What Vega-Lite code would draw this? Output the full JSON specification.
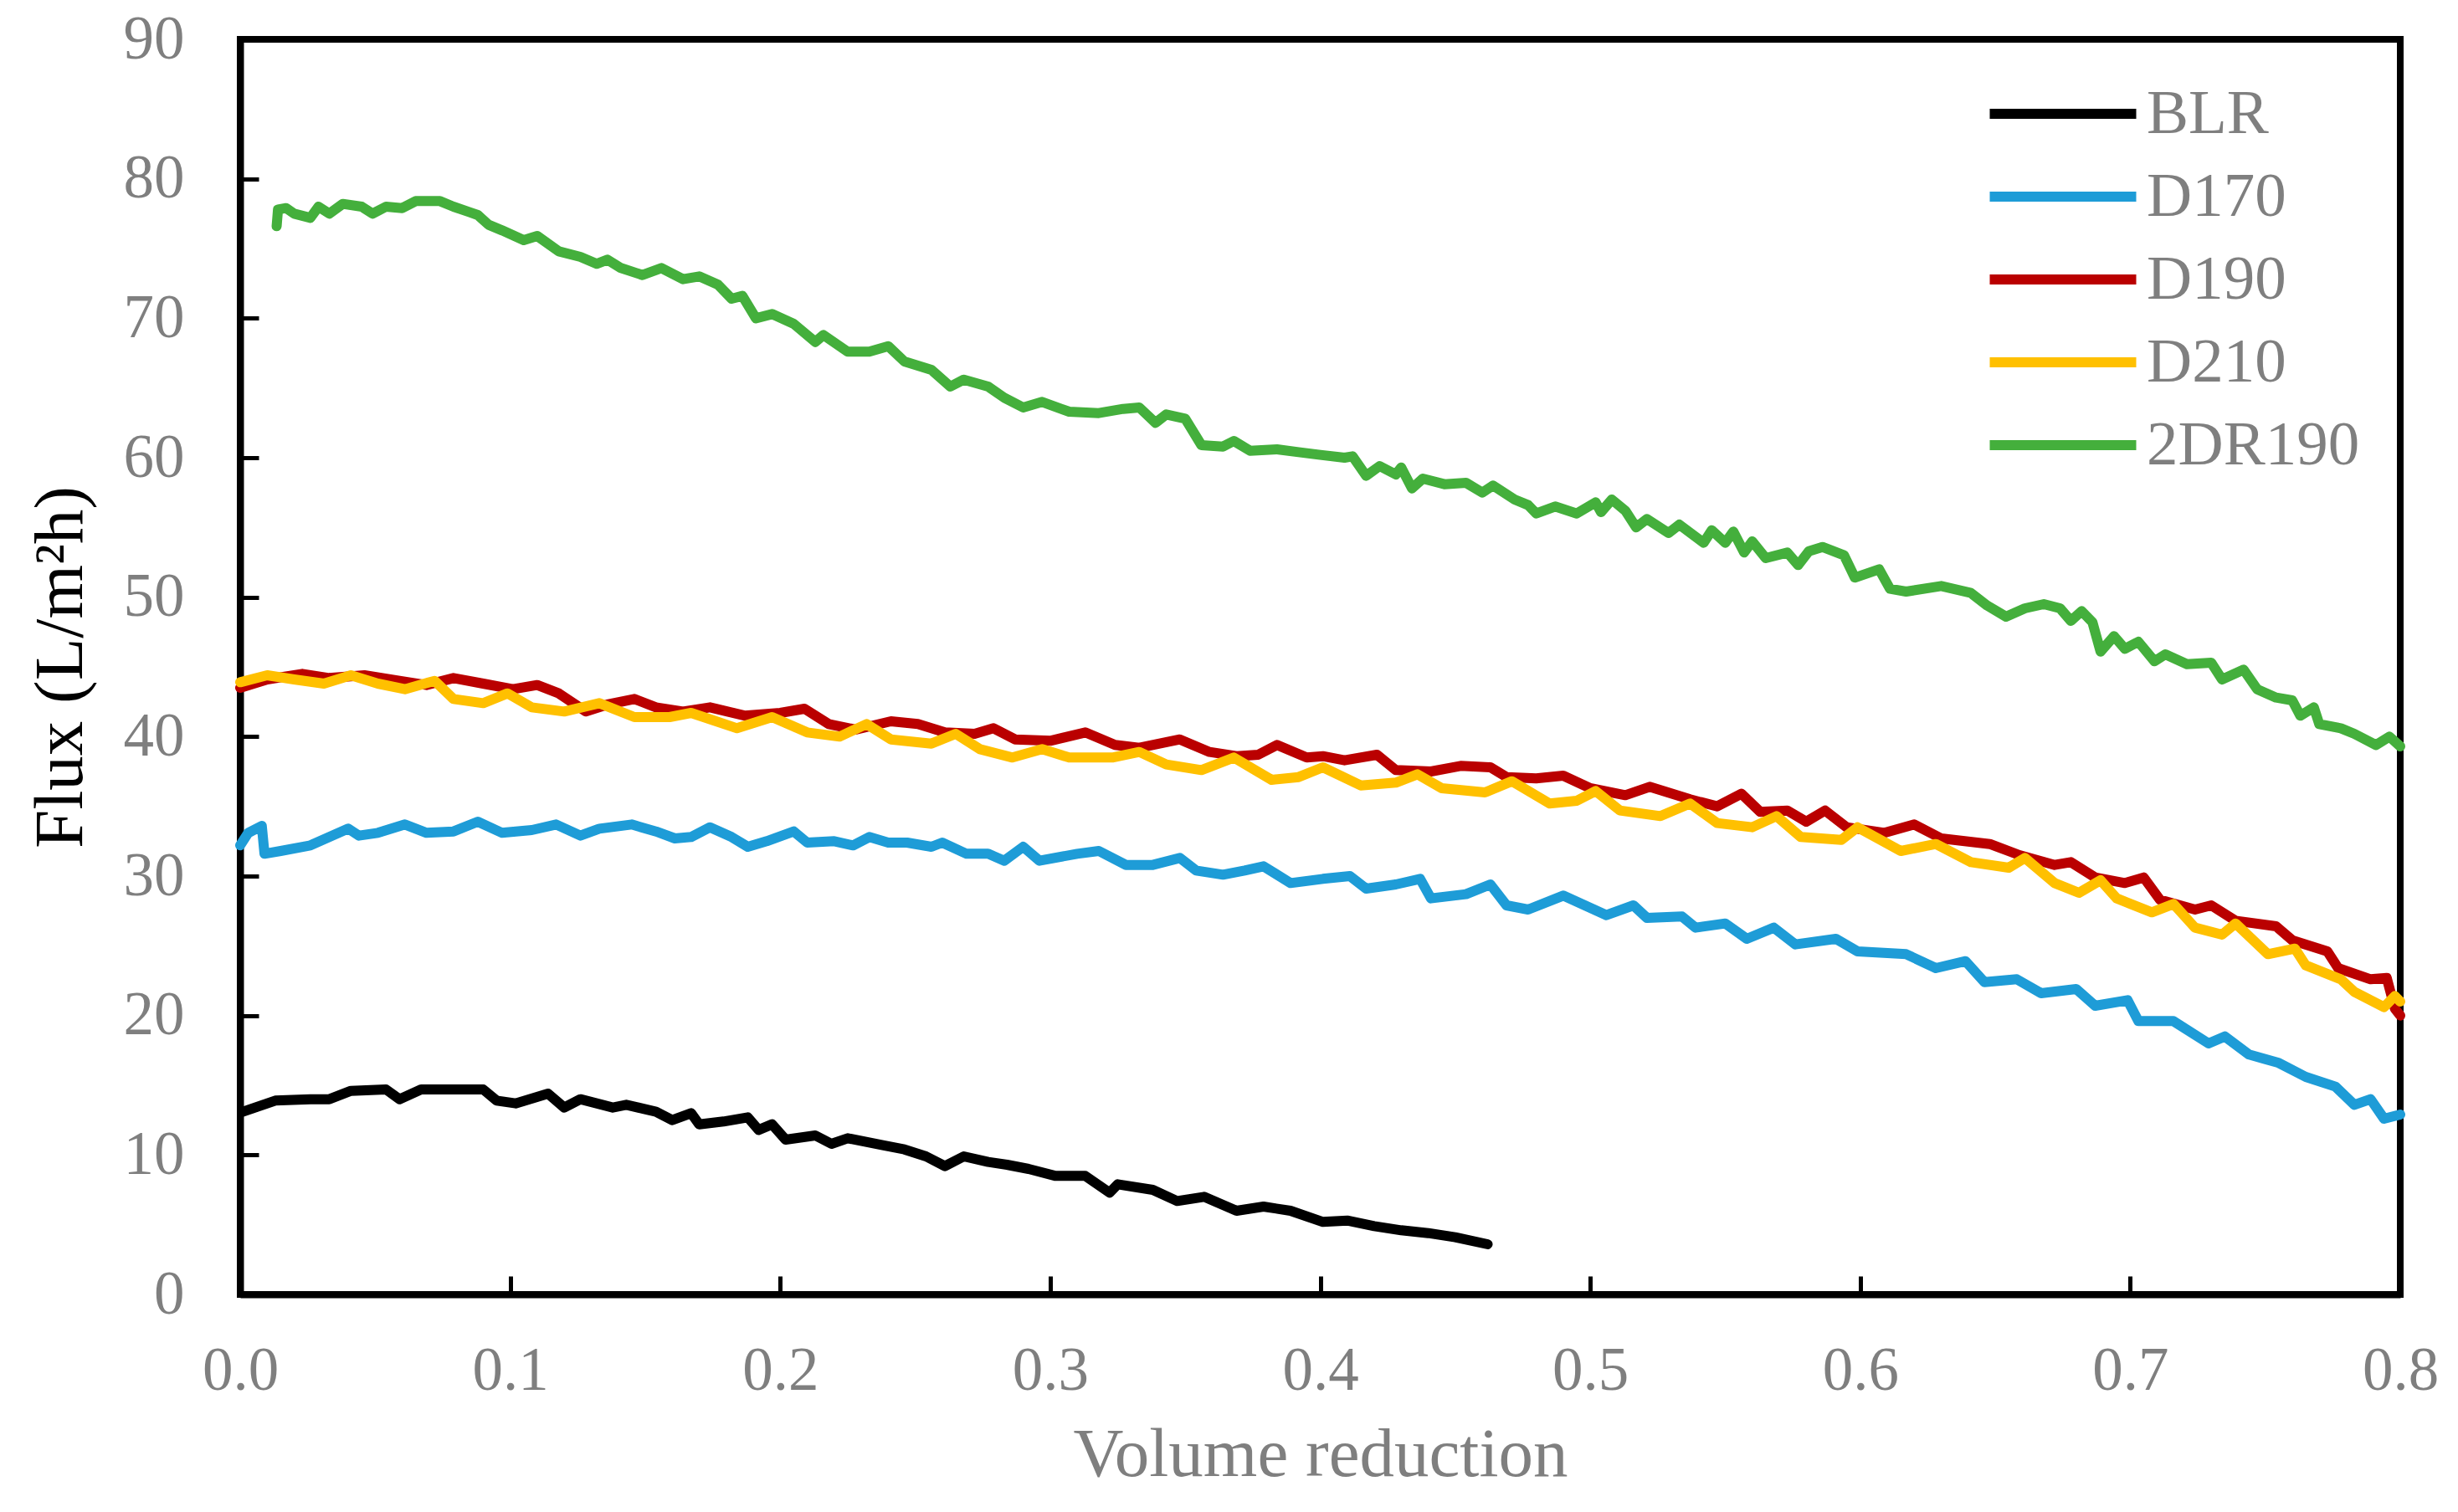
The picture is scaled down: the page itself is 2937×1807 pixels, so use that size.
{
  "$schema": "https://vega.github.io/schema/vega-lite/v6.json",
  "autosize": "none",
  "width": 2581,
  "height": 1500,
  "padding": {"left": 287, "top": 47, "right": 69, "bottom": 260},
  "background": "white",
  "datasets": {
    "flux": [
      {"s": "BLR", "v": 0.001, "f": 13.1}, {"s": "BLR", "v": 0.013, "f": 13.9}, {"s": "BLR", "v": 0.026, "f": 14.0}, {"s": "BLR", "v": 0.033, "f": 14.0},
      {"s": "BLR", "v": 0.041, "f": 14.6}, {"s": "BLR", "v": 0.054, "f": 14.7}, {"s": "BLR", "v": 0.059, "f": 14.0}, {"s": "BLR", "v": 0.067, "f": 14.7},
      {"s": "BLR", "v": 0.077, "f": 14.7}, {"s": "BLR", "v": 0.090, "f": 14.7}, {"s": "BLR", "v": 0.095, "f": 13.9}, {"s": "BLR", "v": 0.102, "f": 13.7},
      {"s": "BLR", "v": 0.114, "f": 14.4}, {"s": "BLR", "v": 0.120, "f": 13.4}, {"s": "BLR", "v": 0.126, "f": 14.0}, {"s": "BLR", "v": 0.138, "f": 13.4},
      {"s": "BLR", "v": 0.143, "f": 13.6}, {"s": "BLR", "v": 0.154, "f": 13.1}, {"s": "BLR", "v": 0.160, "f": 12.5}, {"s": "BLR", "v": 0.167, "f": 13.0},
      {"s": "BLR", "v": 0.170, "f": 12.2}, {"s": "BLR", "v": 0.179, "f": 12.4}, {"s": "BLR", "v": 0.188, "f": 12.7}, {"s": "BLR", "v": 0.192, "f": 11.8},
      {"s": "BLR", "v": 0.197, "f": 12.2}, {"s": "BLR", "v": 0.202, "f": 11.1}, {"s": "BLR", "v": 0.213, "f": 11.4}, {"s": "BLR", "v": 0.219, "f": 10.8},
      {"s": "BLR", "v": 0.225, "f": 11.2}, {"s": "BLR", "v": 0.238, "f": 10.7}, {"s": "BLR", "v": 0.246, "f": 10.4}, {"s": "BLR", "v": 0.254, "f": 9.9},
      {"s": "BLR", "v": 0.261, "f": 9.2}, {"s": "BLR", "v": 0.268, "f": 9.9}, {"s": "BLR", "v": 0.277, "f": 9.5}, {"s": "BLR", "v": 0.284, "f": 9.3},
      {"s": "BLR", "v": 0.292, "f": 9.0}, {"s": "BLR", "v": 0.302, "f": 8.5}, {"s": "BLR", "v": 0.313, "f": 8.5}, {"s": "BLR", "v": 0.322, "f": 7.3},
      {"s": "BLR", "v": 0.325, "f": 7.9}, {"s": "BLR", "v": 0.338, "f": 7.5}, {"s": "BLR", "v": 0.347, "f": 6.7}, {"s": "BLR", "v": 0.357, "f": 7.0},
      {"s": "BLR", "v": 0.369, "f": 6.0}, {"s": "BLR", "v": 0.379, "f": 6.3}, {"s": "BLR", "v": 0.389, "f": 6.0}, {"s": "BLR", "v": 0.401, "f": 5.2},
      {"s": "BLR", "v": 0.410, "f": 5.3}, {"s": "BLR", "v": 0.420, "f": 4.9}, {"s": "BLR", "v": 0.430, "f": 4.6}, {"s": "BLR", "v": 0.440, "f": 4.4},
      {"s": "BLR", "v": 0.450, "f": 4.1}, {"s": "BLR", "v": 0.462, "f": 3.6},

      {"s": "D170", "v": 0.000, "f": 32.2}, {"s": "D170", "v": 0.003, "f": 33.1}, {"s": "D170", "v": 0.008, "f": 33.6}, {"s": "D170", "v": 0.009, "f": 31.6},
      {"s": "D170", "v": 0.015, "f": 31.8}, {"s": "D170", "v": 0.026, "f": 32.2}, {"s": "D170", "v": 0.033, "f": 32.8}, {"s": "D170", "v": 0.040, "f": 33.4},
      {"s": "D170", "v": 0.044, "f": 32.9}, {"s": "D170", "v": 0.051, "f": 33.1}, {"s": "D170", "v": 0.061, "f": 33.7}, {"s": "D170", "v": 0.069, "f": 33.1},
      {"s": "D170", "v": 0.079, "f": 33.2}, {"s": "D170", "v": 0.088, "f": 33.9}, {"s": "D170", "v": 0.097, "f": 33.1}, {"s": "D170", "v": 0.108, "f": 33.3},
      {"s": "D170", "v": 0.117, "f": 33.7}, {"s": "D170", "v": 0.126, "f": 32.9}, {"s": "D170", "v": 0.133, "f": 33.4}, {"s": "D170", "v": 0.145, "f": 33.7},
      {"s": "D170", "v": 0.154, "f": 33.2}, {"s": "D170", "v": 0.161, "f": 32.7}, {"s": "D170", "v": 0.167, "f": 32.8}, {"s": "D170", "v": 0.174, "f": 33.5},
      {"s": "D170", "v": 0.182, "f": 32.8}, {"s": "D170", "v": 0.188, "f": 32.1}, {"s": "D170", "v": 0.195, "f": 32.5}, {"s": "D170", "v": 0.205, "f": 33.2},
      {"s": "D170", "v": 0.210, "f": 32.4}, {"s": "D170", "v": 0.220, "f": 32.5}, {"s": "D170", "v": 0.227, "f": 32.2}, {"s": "D170", "v": 0.233, "f": 32.8},
      {"s": "D170", "v": 0.240, "f": 32.4}, {"s": "D170", "v": 0.247, "f": 32.4}, {"s": "D170", "v": 0.256, "f": 32.1}, {"s": "D170", "v": 0.260, "f": 32.4},
      {"s": "D170", "v": 0.269, "f": 31.6}, {"s": "D170", "v": 0.277, "f": 31.6}, {"s": "D170", "v": 0.283, "f": 31.1}, {"s": "D170", "v": 0.290, "f": 32.1},
      {"s": "D170", "v": 0.296, "f": 31.1}, {"s": "D170", "v": 0.310, "f": 31.6}, {"s": "D170", "v": 0.318, "f": 31.8}, {"s": "D170", "v": 0.328, "f": 30.8},
      {"s": "D170", "v": 0.338, "f": 30.8}, {"s": "D170", "v": 0.348, "f": 31.3}, {"s": "D170", "v": 0.354, "f": 30.4}, {"s": "D170", "v": 0.364, "f": 30.1},
      {"s": "D170", "v": 0.372, "f": 30.4}, {"s": "D170", "v": 0.379, "f": 30.7}, {"s": "D170", "v": 0.389, "f": 29.5}, {"s": "D170", "v": 0.401, "f": 29.8},
      {"s": "D170", "v": 0.411, "f": 30.0}, {"s": "D170", "v": 0.417, "f": 29.1}, {"s": "D170", "v": 0.428, "f": 29.4}, {"s": "D170", "v": 0.437, "f": 29.8},
      {"s": "D170", "v": 0.441, "f": 28.4}, {"s": "D170", "v": 0.454, "f": 28.7}, {"s": "D170", "v": 0.463, "f": 29.4}, {"s": "D170", "v": 0.469, "f": 27.9},
      {"s": "D170", "v": 0.477, "f": 27.6}, {"s": "D170", "v": 0.490, "f": 28.6}, {"s": "D170", "v": 0.506, "f": 27.2}, {"s": "D170", "v": 0.516, "f": 27.9},
      {"s": "D170", "v": 0.521, "f": 27.0}, {"s": "D170", "v": 0.534, "f": 27.1}, {"s": "D170", "v": 0.539, "f": 26.3}, {"s": "D170", "v": 0.550, "f": 26.6},
      {"s": "D170", "v": 0.558, "f": 25.5}, {"s": "D170", "v": 0.568, "f": 26.3}, {"s": "D170", "v": 0.576, "f": 25.1}, {"s": "D170", "v": 0.591, "f": 25.5},
      {"s": "D170", "v": 0.599, "f": 24.6}, {"s": "D170", "v": 0.617, "f": 24.4}, {"s": "D170", "v": 0.628, "f": 23.4}, {"s": "D170", "v": 0.639, "f": 23.9},
      {"s": "D170", "v": 0.646, "f": 22.4}, {"s": "D170", "v": 0.658, "f": 22.6}, {"s": "D170", "v": 0.667, "f": 21.6}, {"s": "D170", "v": 0.680, "f": 21.9},
      {"s": "D170", "v": 0.687, "f": 20.7}, {"s": "D170", "v": 0.699, "f": 21.1}, {"s": "D170", "v": 0.703, "f": 19.6}, {"s": "D170", "v": 0.716, "f": 19.6},
      {"s": "D170", "v": 0.729, "f": 18.0}, {"s": "D170", "v": 0.735, "f": 18.5}, {"s": "D170", "v": 0.744, "f": 17.2}, {"s": "D170", "v": 0.755, "f": 16.6},
      {"s": "D170", "v": 0.765, "f": 15.6}, {"s": "D170", "v": 0.776, "f": 14.9}, {"s": "D170", "v": 0.783, "f": 13.6}, {"s": "D170", "v": 0.789, "f": 14.0},
      {"s": "D170", "v": 0.794, "f": 12.6}, {"s": "D170", "v": 0.800, "f": 12.9},

      {"s": "D190", "v": 0.000, "f": 43.5}, {"s": "D190", "v": 0.010, "f": 44.1}, {"s": "D190", "v": 0.023, "f": 44.5}, {"s": "D190", "v": 0.033, "f": 44.2},
      {"s": "D190", "v": 0.046, "f": 44.4}, {"s": "D190", "v": 0.059, "f": 44.0}, {"s": "D190", "v": 0.069, "f": 43.7}, {"s": "D190", "v": 0.079, "f": 44.2},
      {"s": "D190", "v": 0.090, "f": 43.8}, {"s": "D190", "v": 0.101, "f": 43.4}, {"s": "D190", "v": 0.110, "f": 43.7}, {"s": "D190", "v": 0.118, "f": 43.1},
      {"s": "D190", "v": 0.128, "f": 41.8}, {"s": "D190", "v": 0.136, "f": 42.3}, {"s": "D190", "v": 0.146, "f": 42.7}, {"s": "D190", "v": 0.154, "f": 42.1},
      {"s": "D190", "v": 0.164, "f": 41.8}, {"s": "D190", "v": 0.174, "f": 42.1}, {"s": "D190", "v": 0.187, "f": 41.5}, {"s": "D190", "v": 0.200, "f": 41.7},
      {"s": "D190", "v": 0.209, "f": 42.0}, {"s": "D190", "v": 0.218, "f": 40.9}, {"s": "D190", "v": 0.228, "f": 40.5}, {"s": "D190", "v": 0.241, "f": 41.1},
      {"s": "D190", "v": 0.251, "f": 40.9}, {"s": "D190", "v": 0.261, "f": 40.3}, {"s": "D190", "v": 0.272, "f": 40.2}, {"s": "D190", "v": 0.279, "f": 40.6},
      {"s": "D190", "v": 0.287, "f": 39.8}, {"s": "D190", "v": 0.300, "f": 39.7}, {"s": "D190", "v": 0.313, "f": 40.3}, {"s": "D190", "v": 0.324, "f": 39.4},
      {"s": "D190", "v": 0.333, "f": 39.2}, {"s": "D190", "v": 0.348, "f": 39.8}, {"s": "D190", "v": 0.359, "f": 38.9}, {"s": "D190", "v": 0.369, "f": 38.6},
      {"s": "D190", "v": 0.377, "f": 38.7}, {"s": "D190", "v": 0.384, "f": 39.4}, {"s": "D190", "v": 0.395, "f": 38.5}, {"s": "D190", "v": 0.401, "f": 38.6},
      {"s": "D190", "v": 0.409, "f": 38.3}, {"s": "D190", "v": 0.421, "f": 38.7}, {"s": "D190", "v": 0.428, "f": 37.6}, {"s": "D190", "v": 0.441, "f": 37.5},
      {"s": "D190", "v": 0.452, "f": 37.9}, {"s": "D190", "v": 0.463, "f": 37.8}, {"s": "D190", "v": 0.469, "f": 37.1}, {"s": "D190", "v": 0.480, "f": 37.0},
      {"s": "D190", "v": 0.490, "f": 37.2}, {"s": "D190", "v": 0.500, "f": 36.3}, {"s": "D190", "v": 0.513, "f": 35.8}, {"s": "D190", "v": 0.522, "f": 36.4},
      {"s": "D190", "v": 0.537, "f": 35.5}, {"s": "D190", "v": 0.547, "f": 35.0}, {"s": "D190", "v": 0.556, "f": 35.9}, {"s": "D190", "v": 0.563, "f": 34.6},
      {"s": "D190", "v": 0.573, "f": 34.7}, {"s": "D190", "v": 0.580, "f": 33.9}, {"s": "D190", "v": 0.587, "f": 34.7}, {"s": "D190", "v": 0.595, "f": 33.5},
      {"s": "D190", "v": 0.609, "f": 33.1}, {"s": "D190", "v": 0.620, "f": 33.7}, {"s": "D190", "v": 0.630, "f": 32.7}, {"s": "D190", "v": 0.648, "f": 32.3},
      {"s": "D190", "v": 0.659, "f": 31.5}, {"s": "D190", "v": 0.672, "f": 30.8}, {"s": "D190", "v": 0.678, "f": 31.0}, {"s": "D190", "v": 0.687, "f": 29.9},
      {"s": "D190", "v": 0.698, "f": 29.5}, {"s": "D190", "v": 0.705, "f": 29.9}, {"s": "D190", "v": 0.711, "f": 28.3}, {"s": "D190", "v": 0.724, "f": 27.6},
      {"s": "D190", "v": 0.730, "f": 27.9}, {"s": "D190", "v": 0.739, "f": 26.8}, {"s": "D190", "v": 0.754, "f": 26.4}, {"s": "D190", "v": 0.760, "f": 25.4},
      {"s": "D190", "v": 0.773, "f": 24.6}, {"s": "D190", "v": 0.777, "f": 23.4}, {"s": "D190", "v": 0.789, "f": 22.6}, {"s": "D190", "v": 0.795, "f": 22.7},
      {"s": "D190", "v": 0.798, "f": 20.5}, {"s": "D190", "v": 0.800, "f": 20.0},

      {"s": "D210", "v": 0.000, "f": 43.9}, {"s": "D210", "v": 0.010, "f": 44.4}, {"s": "D210", "v": 0.020, "f": 44.1}, {"s": "D210", "v": 0.031, "f": 43.8},
      {"s": "D210", "v": 0.041, "f": 44.4}, {"s": "D210", "v": 0.051, "f": 43.8}, {"s": "D210", "v": 0.061, "f": 43.4}, {"s": "D210", "v": 0.072, "f": 44.0},
      {"s": "D210", "v": 0.079, "f": 42.7}, {"s": "D210", "v": 0.090, "f": 42.4}, {"s": "D210", "v": 0.099, "f": 43.1}, {"s": "D210", "v": 0.108, "f": 42.1},
      {"s": "D210", "v": 0.120, "f": 41.8}, {"s": "D210", "v": 0.133, "f": 42.4}, {"s": "D210", "v": 0.146, "f": 41.4}, {"s": "D210", "v": 0.159, "f": 41.4},
      {"s": "D210", "v": 0.167, "f": 41.7}, {"s": "D210", "v": 0.184, "f": 40.6}, {"s": "D210", "v": 0.197, "f": 41.4}, {"s": "D210", "v": 0.210, "f": 40.3},
      {"s": "D210", "v": 0.222, "f": 40.0}, {"s": "D210", "v": 0.232, "f": 40.9}, {"s": "D210", "v": 0.241, "f": 39.8}, {"s": "D210", "v": 0.256, "f": 39.5},
      {"s": "D210", "v": 0.265, "f": 40.2}, {"s": "D210", "v": 0.274, "f": 39.1}, {"s": "D210", "v": 0.286, "f": 38.5}, {"s": "D210", "v": 0.297, "f": 39.1},
      {"s": "D210", "v": 0.307, "f": 38.5}, {"s": "D210", "v": 0.323, "f": 38.5}, {"s": "D210", "v": 0.333, "f": 38.9}, {"s": "D210", "v": 0.343, "f": 38.0},
      {"s": "D210", "v": 0.356, "f": 37.6}, {"s": "D210", "v": 0.368, "f": 38.5}, {"s": "D210", "v": 0.382, "f": 36.9}, {"s": "D210", "v": 0.392, "f": 37.1},
      {"s": "D210", "v": 0.401, "f": 37.8}, {"s": "D210", "v": 0.415, "f": 36.5}, {"s": "D210", "v": 0.428, "f": 36.7}, {"s": "D210", "v": 0.436, "f": 37.3},
      {"s": "D210", "v": 0.445, "f": 36.3}, {"s": "D210", "v": 0.461, "f": 36.0}, {"s": "D210", "v": 0.471, "f": 36.8}, {"s": "D210", "v": 0.485, "f": 35.2},
      {"s": "D210", "v": 0.495, "f": 35.4}, {"s": "D210", "v": 0.502, "f": 36.1}, {"s": "D210", "v": 0.511, "f": 34.7}, {"s": "D210", "v": 0.526, "f": 34.3},
      {"s": "D210", "v": 0.537, "f": 35.2}, {"s": "D210", "v": 0.547, "f": 33.8}, {"s": "D210", "v": 0.560, "f": 33.5}, {"s": "D210", "v": 0.569, "f": 34.3},
      {"s": "D210", "v": 0.578, "f": 32.8}, {"s": "D210", "v": 0.593, "f": 32.6}, {"s": "D210", "v": 0.599, "f": 33.5}, {"s": "D210", "v": 0.615, "f": 31.8},
      {"s": "D210", "v": 0.628, "f": 32.3}, {"s": "D210", "v": 0.641, "f": 31.0}, {"s": "D210", "v": 0.655, "f": 30.6}, {"s": "D210", "v": 0.661, "f": 31.3},
      {"s": "D210", "v": 0.672, "f": 29.5}, {"s": "D210", "v": 0.681, "f": 28.8}, {"s": "D210", "v": 0.689, "f": 29.7}, {"s": "D210", "v": 0.695, "f": 28.4},
      {"s": "D210", "v": 0.708, "f": 27.4}, {"s": "D210", "v": 0.716, "f": 28.0}, {"s": "D210", "v": 0.724, "f": 26.3}, {"s": "D210", "v": 0.734, "f": 25.8},
      {"s": "D210", "v": 0.739, "f": 26.6}, {"s": "D210", "v": 0.751, "f": 24.4}, {"s": "D210", "v": 0.761, "f": 24.8}, {"s": "D210", "v": 0.765, "f": 23.6},
      {"s": "D210", "v": 0.778, "f": 22.6}, {"s": "D210", "v": 0.783, "f": 21.7}, {"s": "D210", "v": 0.794, "f": 20.6}, {"s": "D210", "v": 0.798, "f": 21.4},
      {"s": "D210", "v": 0.800, "f": 21.0},

      {"s": "2DR190", "v": 0.0135, "f": 76.6}, {"s": "2DR190", "v": 0.014, "f": 77.8}, {"s": "2DR190", "v": 0.017, "f": 77.9}, {"s": "2DR190", "v": 0.020, "f": 77.5},
      {"s": "2DR190", "v": 0.026, "f": 77.2}, {"s": "2DR190", "v": 0.029, "f": 78.0}, {"s": "2DR190", "v": 0.033, "f": 77.5}, {"s": "2DR190", "v": 0.038, "f": 78.2},
      {"s": "2DR190", "v": 0.045, "f": 78.0}, {"s": "2DR190", "v": 0.049, "f": 77.5}, {"s": "2DR190", "v": 0.054, "f": 78.0}, {"s": "2DR190", "v": 0.060, "f": 77.9},
      {"s": "2DR190", "v": 0.065, "f": 78.4}, {"s": "2DR190", "v": 0.074, "f": 78.4}, {"s": "2DR190", "v": 0.079, "f": 78.0}, {"s": "2DR190", "v": 0.085, "f": 77.6},
      {"s": "2DR190", "v": 0.088, "f": 77.4}, {"s": "2DR190", "v": 0.092, "f": 76.7}, {"s": "2DR190", "v": 0.097, "f": 76.3}, {"s": "2DR190", "v": 0.105, "f": 75.6},
      {"s": "2DR190", "v": 0.110, "f": 75.9}, {"s": "2DR190", "v": 0.118, "f": 74.8}, {"s": "2DR190", "v": 0.126, "f": 74.4}, {"s": "2DR190", "v": 0.132, "f": 73.9},
      {"s": "2DR190", "v": 0.136, "f": 74.2}, {"s": "2DR190", "v": 0.141, "f": 73.6}, {"s": "2DR190", "v": 0.149, "f": 73.1}, {"s": "2DR190", "v": 0.156, "f": 73.6},
      {"s": "2DR190", "v": 0.164, "f": 72.8}, {"s": "2DR190", "v": 0.170, "f": 73.0}, {"s": "2DR190", "v": 0.177, "f": 72.4}, {"s": "2DR190", "v": 0.182, "f": 71.4},
      {"s": "2DR190", "v": 0.186, "f": 71.6}, {"s": "2DR190", "v": 0.191, "f": 70.0}, {"s": "2DR190", "v": 0.197, "f": 70.3}, {"s": "2DR190", "v": 0.205, "f": 69.6},
      {"s": "2DR190", "v": 0.213, "f": 68.3}, {"s": "2DR190", "v": 0.216, "f": 68.8}, {"s": "2DR190", "v": 0.225, "f": 67.6}, {"s": "2DR190", "v": 0.233, "f": 67.6},
      {"s": "2DR190", "v": 0.240, "f": 68.0}, {"s": "2DR190", "v": 0.246, "f": 66.9}, {"s": "2DR190", "v": 0.256, "f": 66.3}, {"s": "2DR190", "v": 0.263, "f": 65.1},
      {"s": "2DR190", "v": 0.268, "f": 65.6}, {"s": "2DR190", "v": 0.277, "f": 65.1}, {"s": "2DR190", "v": 0.283, "f": 64.3}, {"s": "2DR190", "v": 0.290, "f": 63.6},
      {"s": "2DR190", "v": 0.297, "f": 64.0}, {"s": "2DR190", "v": 0.307, "f": 63.3}, {"s": "2DR190", "v": 0.318, "f": 63.2}, {"s": "2DR190", "v": 0.327, "f": 63.5},
      {"s": "2DR190", "v": 0.333, "f": 63.6}, {"s": "2DR190", "v": 0.339, "f": 62.5}, {"s": "2DR190", "v": 0.343, "f": 63.1}, {"s": "2DR190", "v": 0.350, "f": 62.8},
      {"s": "2DR190", "v": 0.356, "f": 60.9}, {"s": "2DR190", "v": 0.364, "f": 60.8}, {"s": "2DR190", "v": 0.368, "f": 61.2}, {"s": "2DR190", "v": 0.374, "f": 60.5},
      {"s": "2DR190", "v": 0.384, "f": 60.6}, {"s": "2DR190", "v": 0.392, "f": 60.4}, {"s": "2DR190", "v": 0.400, "f": 60.2}, {"s": "2DR190", "v": 0.409, "f": 60.0},
      {"s": "2DR190", "v": 0.412, "f": 60.1}, {"s": "2DR190", "v": 0.417, "f": 58.7}, {"s": "2DR190", "v": 0.422, "f": 59.4}, {"s": "2DR190", "v": 0.428, "f": 58.8},
      {"s": "2DR190", "v": 0.430, "f": 59.3}, {"s": "2DR190", "v": 0.434, "f": 57.8}, {"s": "2DR190", "v": 0.438, "f": 58.5}, {"s": "2DR190", "v": 0.446, "f": 58.1},
      {"s": "2DR190", "v": 0.454, "f": 58.2}, {"s": "2DR190", "v": 0.460, "f": 57.5}, {"s": "2DR190", "v": 0.464, "f": 58.0}, {"s": "2DR190", "v": 0.472, "f": 57.0},
      {"s": "2DR190", "v": 0.477, "f": 56.6}, {"s": "2DR190", "v": 0.480, "f": 56.0}, {"s": "2DR190", "v": 0.487, "f": 56.5}, {"s": "2DR190", "v": 0.495, "f": 56.0},
      {"s": "2DR190", "v": 0.502, "f": 56.8}, {"s": "2DR190", "v": 0.504, "f": 56.1}, {"s": "2DR190", "v": 0.508, "f": 57.0}, {"s": "2DR190", "v": 0.513, "f": 56.2},
      {"s": "2DR190", "v": 0.517, "f": 55.0}, {"s": "2DR190", "v": 0.521, "f": 55.6}, {"s": "2DR190", "v": 0.529, "f": 54.6}, {"s": "2DR190", "v": 0.533, "f": 55.2},
      {"s": "2DR190", "v": 0.542, "f": 53.9}, {"s": "2DR190", "v": 0.545, "f": 54.8}, {"s": "2DR190", "v": 0.550, "f": 53.9}, {"s": "2DR190", "v": 0.553, "f": 54.7},
      {"s": "2DR190", "v": 0.557, "f": 53.2}, {"s": "2DR190", "v": 0.560, "f": 54.0}, {"s": "2DR190", "v": 0.565, "f": 52.8}, {"s": "2DR190", "v": 0.573, "f": 53.2},
      {"s": "2DR190", "v": 0.577, "f": 52.3}, {"s": "2DR190", "v": 0.581, "f": 53.3}, {"s": "2DR190", "v": 0.586, "f": 53.6}, {"s": "2DR190", "v": 0.594, "f": 53.0},
      {"s": "2DR190", "v": 0.598, "f": 51.4}, {"s": "2DR190", "v": 0.607, "f": 52.0}, {"s": "2DR190", "v": 0.611, "f": 50.6}, {"s": "2DR190", "v": 0.617, "f": 50.4},
      {"s": "2DR190", "v": 0.630, "f": 50.8}, {"s": "2DR190", "v": 0.641, "f": 50.3}, {"s": "2DR190", "v": 0.647, "f": 49.4}, {"s": "2DR190", "v": 0.654, "f": 48.6},
      {"s": "2DR190", "v": 0.661, "f": 49.2}, {"s": "2DR190", "v": 0.668, "f": 49.5}, {"s": "2DR190", "v": 0.674, "f": 49.2}, {"s": "2DR190", "v": 0.678, "f": 48.3},
      {"s": "2DR190", "v": 0.682, "f": 49.0}, {"s": "2DR190", "v": 0.686, "f": 48.2}, {"s": "2DR190", "v": 0.689, "f": 46.1}, {"s": "2DR190", "v": 0.694, "f": 47.2},
      {"s": "2DR190", "v": 0.698, "f": 46.3}, {"s": "2DR190", "v": 0.703, "f": 46.8}, {"s": "2DR190", "v": 0.709, "f": 45.4}, {"s": "2DR190", "v": 0.713, "f": 45.9},
      {"s": "2DR190", "v": 0.721, "f": 45.2}, {"s": "2DR190", "v": 0.730, "f": 45.3}, {"s": "2DR190", "v": 0.734, "f": 44.1}, {"s": "2DR190", "v": 0.742, "f": 44.8},
      {"s": "2DR190", "v": 0.747, "f": 43.4}, {"s": "2DR190", "v": 0.754, "f": 42.8}, {"s": "2DR190", "v": 0.760, "f": 42.6}, {"s": "2DR190", "v": 0.763, "f": 41.5},
      {"s": "2DR190", "v": 0.768, "f": 42.1}, {"s": "2DR190", "v": 0.770, "f": 40.9}, {"s": "2DR190", "v": 0.778, "f": 40.6}, {"s": "2DR190", "v": 0.783, "f": 40.2},
      {"s": "2DR190", "v": 0.791, "f": 39.4}, {"s": "2DR190", "v": 0.796, "f": 40.0}, {"s": "2DR190", "v": 0.800, "f": 39.3}
    ]
  },
  "data": {"name": "flux"},
  "mark": {"type": "line", "strokeWidth": 12, "strokeCap": "round", "strokeJoin": "round"},
  "encoding": {
    "x": {
      "field": "v",
      "type": "quantitative",
      "scale": {"domain": [0, 0.8], "nice": false},
      "axis": {
        "title": "Volume reduction",
        "titleColor": "#7f7f7f",
        "values": [0, 0.1, 0.2, 0.3, 0.4, 0.5, 0.6, 0.7, 0.8],
        "format": ".1f",
        "labelPadding": 77,
        "titlePadding": 22
      }
    },
    "y": {
      "field": "f",
      "type": "quantitative",
      "scale": {"domain": [0, 90], "nice": false},
      "axis": {
        "title": "Flux (L/m²h)",
        "titleColor": "#000000",
        "values": [0, 10, 20, 30, 40, 50, 60, 70, 80, 90],
        "labelPadding": 89,
        "titlePadding": 33
      }
    },
    "color": {
      "field": "s",
      "type": "nominal",
      "sort": ["BLR", "D170", "D190", "D210", "2DR190"],
      "scale": {
        "domain": ["BLR", "D170", "D190", "D210", "2DR190"],
        "range": ["#000000", "#1e9cd7", "#ba0000", "#ffc000", "#44af3c"]
      },
      "legend": {
        "title": null,
        "orient": "top-right",
        "offset": 48,
        "padding": 0,
        "symbolType": "M-2.5,0H2.5",
        "symbolSize": 4900,
        "symbolStrokeWidth": 12,
        "labelOffset": 59,
        "rowPadding": 20,
        "labelLimit": 600,
        "labelFont": "Liberation Serif",
        "labelFontSize": 75,
        "labelColor": "#7f7f7f"
      }
    }
  },
  "config": {
    "font": "Liberation Serif",
    "view": {"stroke": "#000000", "strokeWidth": 8},
    "axis": {
      "grid": false,
      "domainColor": "#000000",
      "domainWidth": 8,
      "tickColor": "#000000",
      "tickWidth": 5,
      "tickSize": -22,
      "labelFont": "Liberation Serif",
      "labelFontSize": 73,
      "labelColor": "#7f7f7f",
      "labelFlush": false,
      "labelOverlap": false,
      "titleFont": "Liberation Serif",
      "titleFontSize": 83,
      "titleFontWeight": "normal"
    }
  }
}
